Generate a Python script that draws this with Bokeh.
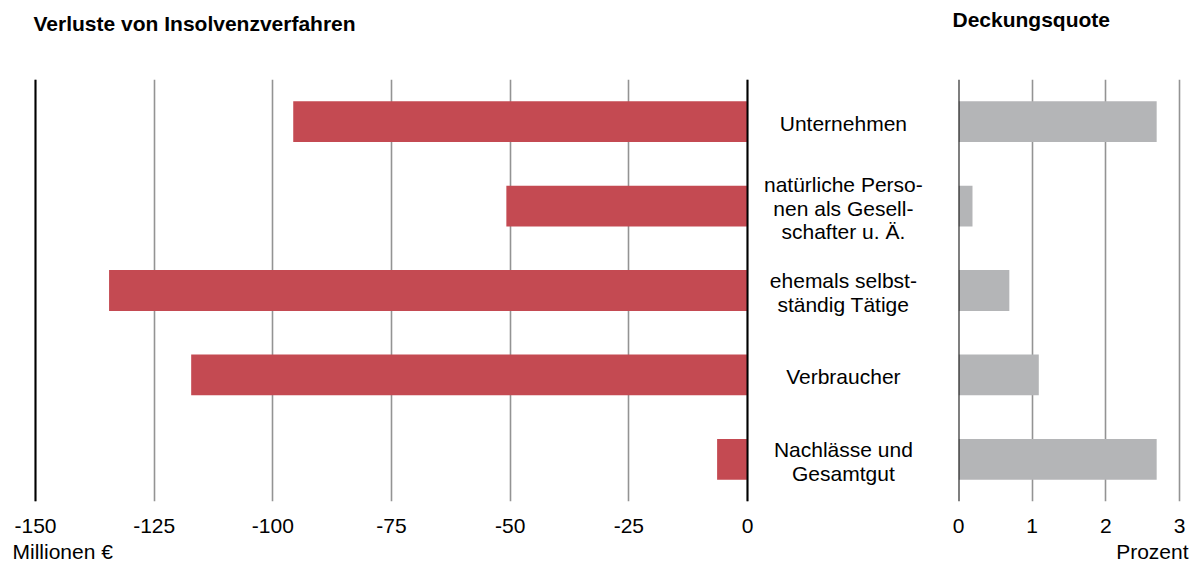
from bokeh.plotting import figure
from bokeh.layouts import row
from bokeh.models import Range1d, FactorRange, FixedTicker, Span, Title, ColumnDataSource
from bokeh.core.properties import value
from bokeh.embed import file_html
from bokeh.resources import INLINE

# ---- data ----
categories = ["Unternehmen",
              "natürliche Personen als Gesellschafter u. Ä.",
              "ehemals selbstständig Tätige",
              "Verbraucher",
              "Nachlässe und Gesamtgut"]
category_labels = ["Unternehmen",
                   "natürliche Perso-\nnen als Gesell-\nschafter u. Ä.",
                   "ehemals selbst-\nständig Tätige",
                   "Verbraucher",
                   "Nachlässe und\nGesamtgut"]
verluste = [-95.7, -50.8, -134.5, -117.2, -6.4]          # Millionen €
deckungsquote = [2.69, 0.19, 0.69, 1.09, 2.69]           # Prozent
left_ticks = [-150, -125, -100, -75, -50, -25, 0]
left_tick_labels = ["-150", "-125", "-100", "-75", "-50", "-25", "0"]
right_ticks = [0, 1, 2, 3]
right_tick_labels = ["0", "1", "2", "3"]

FONT = "Liberation Sans"
FS = "21px"
RED = "#C44A52"
GREY_BAR = "#B4B5B7"
GRID = "#939393"

src = ColumnDataSource(dict(cat=categories, lab=category_labels,
                            verl=verluste, deck=deckungsquote,
                            zero=[0] * len(categories),
                            labx=[20.2] * len(categories)))

yr = FactorRange(factors=list(reversed(categories)), range_padding=0)

def style(p, ticks, tick_labels):
    p.outline_line_color = None
    p.background_fill_color = "white"
    p.border_fill_color = "white"
    p.ygrid.visible = False
    p.xgrid.ticker = FixedTicker(ticks=ticks)
    p.xgrid.grid_line_color = GRID
    p.xgrid.grid_line_width = 1.6
    ax = p.xaxis[0]
    ax.ticker = FixedTicker(ticks=ticks)
    ax.major_label_overrides = {t: s for t, s in zip(ticks, tick_labels)}
    ax.axis_line_color = None
    ax.major_tick_line_color = None
    ax.minor_tick_line_color = None
    ax.major_tick_out = 0
    ax.major_tick_in = 0
    ax.major_label_standoff = 17
    ax.major_label_text_font = FONT
    ax.major_label_text_font_size = FS
    ax.major_label_text_color = "black"

def add_title(p, text, place, align, offset, standoff, bold):
    t = Title(text=text, align=align, offset=offset, standoff=standoff,
              text_font=FONT, text_font_size=FS,
              text_font_style="bold" if bold else "normal", text_color="black")
    p.add_layout(t, place)

# ---- left panel ----
pl = figure(width=950, height=564, x_range=Range1d(-150.42, 42.77), y_range=yr,
            output_backend="svg", toolbar_location=None, y_axis_location=None,
            min_border_left=33, min_border_right=0, min_border_top=79, min_border_bottom=63)
style(pl, left_ticks, left_tick_labels)
pl.hbar(y="cat", left="verl", right="zero", height=0.483, source=src,
        fill_color=RED, line_color=None)
pl.add_layout(Span(location=0, dimension="height", line_color="black", line_width=2))
pl.add_layout(Span(location=-150, dimension="height", line_color="black", line_width=2))
pl.text(x="labx", y="cat", text="lab", source=src, text_align="center",
        text_baseline="middle", text_font=value(FONT), text_font_size=FS,
        text_color="black", text_line_height=1.02, y_offset=2)
add_title(pl, " ", "above", "left", 0, 20, False)          # spacer next to frame
add_title(pl, "Verluste von Insolvenzverfahren", "above", "left", 0, 0, True)
add_title(pl, "Millionen €", "below", "left", -21, 4, False)

# ---- right panel ----
pr = figure(width=242, height=564, x_range=Range1d(0, 3.027), y_range=yr,
            output_backend="svg", toolbar_location=None, y_axis_location=None,
            min_border_left=8, min_border_right=11, min_border_top=79, min_border_bottom=63)
style(pr, right_ticks, right_tick_labels)
pr.hbar(y="cat", left="zero", right="deck", height=0.483, source=src,
        fill_color=GREY_BAR, line_color=None)
pr.add_layout(Span(location=0, dimension="height", line_color="black", line_width=2))
add_title(pr, " ", "above", "left", 0, 24, False)          # spacer next to frame
add_title(pr, "Deckungsquote", "above", "left", -6, 0, True)
add_title(pr, "Prozent", "below", "right", -7, 4, False)

layout = row(pl, pr)
open("out.html", "w").write(file_html(layout, INLINE))
